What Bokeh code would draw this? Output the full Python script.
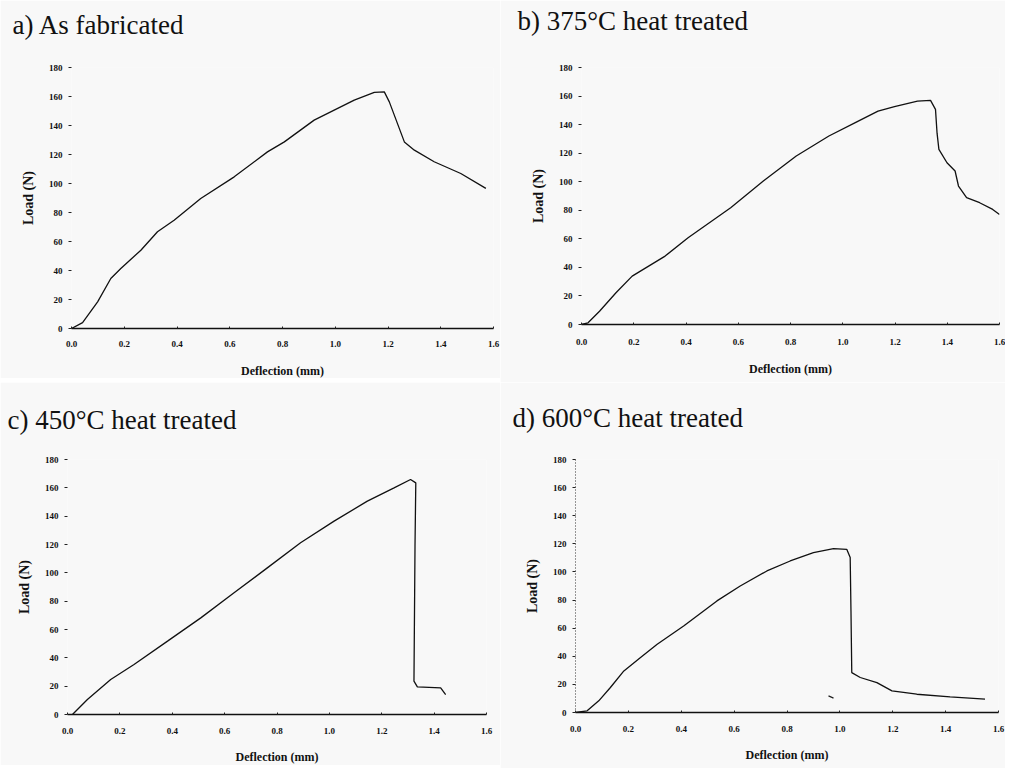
from bokeh.plotting import figure
from bokeh.layouts import column, row
from bokeh.models import FixedTicker, Title
from bokeh.embed import file_html
from bokeh.resources import INLINE

# ---- data ----
a_x = [0, 0.042, 0.099, 0.149, 0.187, 0.263, 0.326, 0.389, 0.49, 0.617, 0.743, 0.807, 0.92, 0.996, 1.072, 1.148, 1.186, 1.205, 1.262, 1.30, 1.375, 1.476, 1.571]
a_y = [0, 4.1, 18.4, 34.5, 41.4, 54, 66.7, 74.7, 89.7, 104.6, 121.8, 128.7, 143.7, 150.6, 157.5, 162.8, 163.2, 156.3, 128.7, 123, 115, 106.9, 96.6]

b_x = [0, 0.025, 0.069, 0.132, 0.194, 0.257, 0.32, 0.408, 0.571, 0.696, 0.822, 0.947, 1.048, 1.135, 1.198, 1.286, 1.336, 1.355, 1.361, 1.368, 1.399, 1.43, 1.443, 1.474, 1.524, 1.574, 1.6]
b_y = [0, 1.2, 9.3, 22.2, 33.9, 40.9, 47.9, 60.7, 81.8, 100.5, 118, 132, 141.4, 149.5, 152.6, 156.5, 157, 150.7, 134, 122.7, 113.3, 107.5, 97, 88.8, 85.3, 80.6, 77]

c_x = [0.019, 0.076, 0.165, 0.254, 0.382, 0.509, 0.636, 0.763, 0.89, 1.018, 1.145, 1.247, 1.31, 1.33, 1.327, 1.323, 1.336, 1.425, 1.444]
c_y = [0, 10.6, 24.7, 35.3, 51.8, 68.2, 85.9, 103.5, 121.2, 136.5, 150.6, 160, 165.9, 163.5, 118.8, 23.5, 19.5, 18.8, 14.1]

d_x = [0, 0.044, 0.088, 0.132, 0.183, 0.246, 0.309, 0.409, 0.535, 0.623, 0.724, 0.812, 0.9, 0.976, 1.026, 1.039, 1.042, 1.045, 1.077, 1.14, 1.197, 1.291, 1.417, 1.549]
d_y = [0, 1.2, 8.3, 17.8, 29.6, 39.1, 48.6, 61.6, 79.4, 90, 100.7, 107.8, 113.7, 116.6, 116.1, 110.2, 72.3, 28.4, 24.9, 21.3, 15.4, 13, 11.1, 9.5]
d_mark_x = [0.957, 0.976]
d_mark_y = [11.8, 10.2]

x_ticks = [0.0, 0.2, 0.4, 0.6, 0.8, 1.0, 1.2, 1.4, 1.6]
x_tick_labels = ["0.0", "0.2", "0.4", "0.6", "0.8", "1.0", "1.2", "1.4", "1.6"]
y_ticks = [0, 20, 40, 60, 80, 100, 120, 140, 160, 180]
y_tick_labels = ["0", "20", "40", "60", "80", "100", "120", "140", "160", "180"]

titles = ["a) As fabricated", "b) 375\u00b0C heat treated", "c) 450\u00b0C heat treated", "d) 600\u00b0C heat treated"]
x_label = "Deflection (mm)"
y_label = "Load (N)"

BG = "#f8f8f8"
FONT = "Liberation Serif"


def make_panel(title, xs, ys, left, fw, right, fh, bottom, title_dx,
               title_so, spacer_so, lab_so, axlab_so, dotted_y=False):
    p = figure(output_backend="svg", toolbar_location=None, title=None,
               x_range=(0, 1.6), y_range=(0, 180),
               frame_width=fw, frame_height=fh,
               min_border_left=left, min_border_right=right,
               min_border_top=0, min_border_bottom=bottom,
               background_fill_color=BG, border_fill_color=BG,
               outline_line_color=None)
    p.grid.visible = False
    # spacer (nearest the frame), then the visible panel title above it
    p.add_layout(Title(text=" ", text_font_size="1px", standoff=spacer_so), "above")
    p.add_layout(Title(text=title, text_font=FONT, text_font_size="27px",
                       text_font_style="normal", text_color="#111111",
                       offset=title_dx, standoff=title_so), "above")

    p.xaxis.ticker = FixedTicker(ticks=x_ticks)
    p.xaxis.major_label_overrides = {t_: l for t_, l in zip(x_ticks, x_tick_labels)}
    p.yaxis.ticker = FixedTicker(ticks=y_ticks)
    p.yaxis.major_label_overrides = {t_: l for t_, l in zip(y_ticks, y_tick_labels)}

    for ax in (p.xaxis, p.yaxis):
        ax.major_label_text_font = FONT
        ax.major_label_text_font_size = "9px"
        ax.major_label_text_font_style = "bold"
        ax.major_label_text_color = "#111111"
        ax.axis_label_text_font = FONT
        ax.axis_label_text_font_style = "bold"
        ax.axis_label_text_color = "#111111"
        ax.minor_tick_line_color = None
        ax.major_tick_line_color = "#222222"

    p.xaxis.axis_label = x_label
    p.xaxis.axis_label_text_font_size = "12px"
    p.xaxis.axis_line_width = 1.6
    p.xaxis.axis_line_color = "#111111"
    p.xaxis.major_tick_in = 2
    p.xaxis.major_tick_out = 0
    p.xaxis.major_label_standoff = lab_so
    p.xaxis.axis_label_standoff = axlab_so

    p.yaxis.axis_label = y_label
    p.yaxis.axis_label_text_font_size = "14px"
    p.yaxis.major_tick_in = 0
    p.yaxis.major_tick_out = 3
    p.yaxis.major_label_standoff = 6
    p.yaxis.axis_label_standoff = 10
    if dotted_y:
        p.yaxis.axis_line_color = "#333333"
        p.yaxis.axis_line_dash = "1 2"
    else:
        p.yaxis.axis_line_color = None

    p.line(xs, ys, line_color="#111111", line_width=1.3)
    return p


pa = make_panel(titles[0], a_x, a_y, 71, 422, 7, 261, 56, -59, 2, 24, 12, 14)
pb = make_panel(titles[1], b_x, b_y, 81, 418, 6, 257, 58, -64, 6, 26, 14, 14)
pc = make_panel(titles[2], c_x, c_y, 67, 419, 14, 255, 56, -60, 30, 7, 13, 13)
pd = make_panel(titles[3], d_x, d_y, 75, 423, 7, 253, 56, -63, 36, 6, 13, 13, dotted_y=True)
pd.line(d_mark_x, d_mark_y, line_color="#222222", line_width=1.2)

layout = column(row(pa, pb), row(pc, pd))
open("out.html", "w").write(file_html(layout, INLINE))
